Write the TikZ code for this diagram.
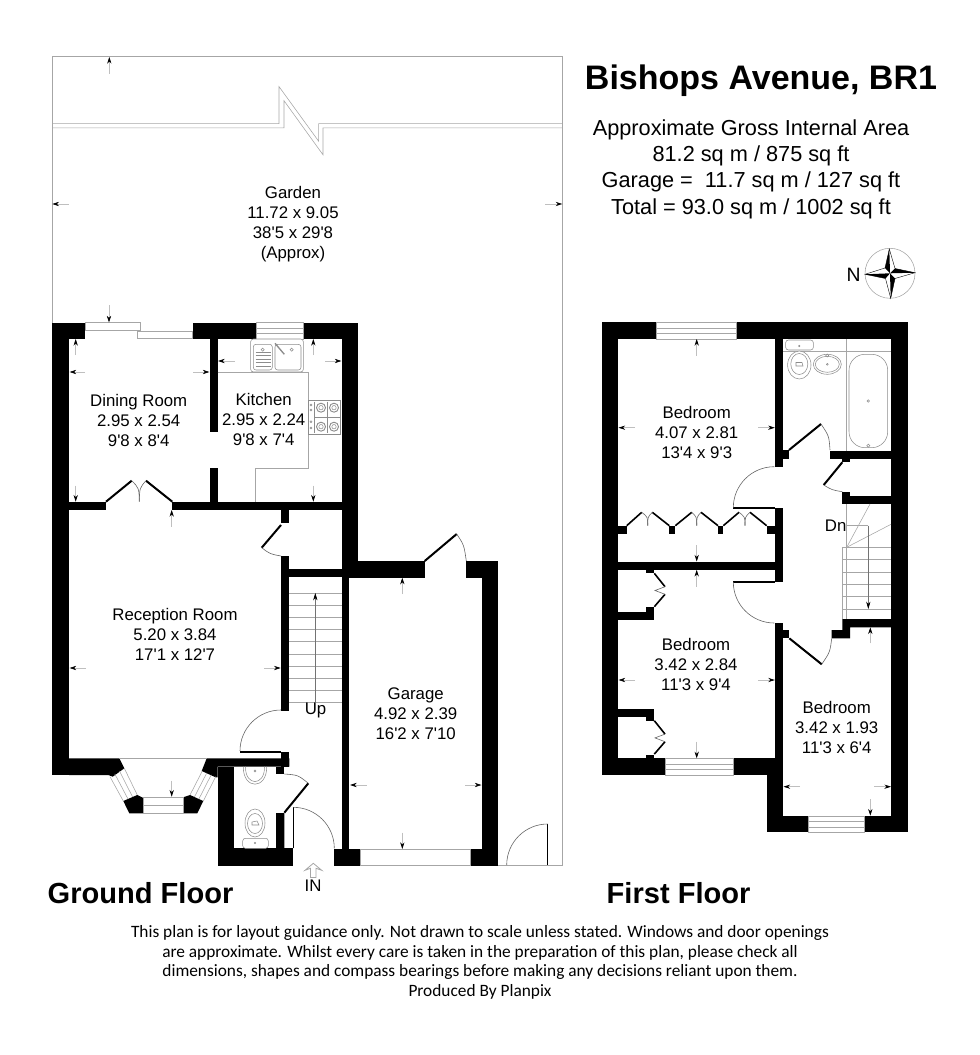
\documentclass[tikz,border=0pt]{standalone}
\usepackage{fontspec}
\setmainfont{Liberation Sans}[Ligatures=TeXOff]
\newfontfamily\notefont{Carlito}
\usetikzlibrary{arrows.meta}

\tikzset{
  wall/.style={fill=black},
  thinline/.style={draw=black!35,line width=0.42pt},
  fitting/.style={draw=black!45,line width=0.4pt},
  swing/.style={draw=black!60,line width=0.45pt},
  leaf/.style={draw=black,line width=1.5pt},
  dimline/.style={draw=black!25,line width=0.5pt,-{Stealth[black,length=5pt,width=3.2pt]}},
  room/.style={align=center,font=\fontsize{12.6}{15}\selectfont},
  areatext/.style={align=center,font=\fontsize{16.3}{19.8}\selectfont},
  floortitle/.style={font=\bfseries\fontsize{21.8}{26}\selectfont,anchor=base west},
  notetext/.style={align=center,font=\notefont\fontsize{13}{14.7}\selectfont}
}

% ventana de tres bandas: x1, x2, y arriba
\newcommand{\flatwindow}[3]{
  \draw[thinline] (#1,#3) rectangle (#2,#3+16.5);
  \draw[thinline] (#1,#3+5.5) -- (#2,#3+5.5);
  \draw[thinline] (#1,#3+11) -- (#2,#3+11);
}

\begin{document}
\begin{tikzpicture}[x=0.75pt,y=-0.75pt]
    \useasboundingbox (0,0) rectangle (980,1055);

    % Jardin
    \draw[thinline] (52.3,322.7) -- (52.3,56.5) -- (562.3,56.5) -- (562.3,865) -- (498,865);
    \draw[thinline] (52.3,123.7) -- (279,123.7) -- (279,86.6) -- (318.7,141.3) -- (318.7,123.7) -- (562.3,123.7);
    \draw[thinline] (52.3,127.8) -- (284,127.8) -- (284,100.7) -- (323,154.8) -- (323,127.8) -- (562.3,127.8);

    % Muros planta baja
    \fill[wall] (52.3,322.7) rectangle (85,339);
    \fill[wall] (52.3,322.7) rectangle (69,775);
    \fill[wall] (69,758.3) -- (119.3,758.3) -- (124.3,768.3) -- (112.7,776.7) -- (108.3,775) -- (69,775) -- cycle;
    \fill[wall] (192.7,322.7) rectangle (256,339);
    \fill[wall] (303,322.7) rectangle (358,339);
    \fill[wall] (342,322.7) rectangle (358,577.7);
    \fill[wall] (209.7,339) rectangle (217.7,432.3);
    \fill[wall] (209.7,468.3) rectangle (217.7,502);
    \fill[wall] (69,501.7) rectangle (106,510);
    \fill[wall] (172.3,501.7) rectangle (342,510);
    \fill[wall] (281,510) rectangle (289.3,523.3);
    \fill[wall] (281,556) rectangle (289.3,710.7);
    \fill[wall] (289,569) rectangle (342,577);
    \fill[wall] (342,577) rectangle (349.3,850);
    \fill[wall] (358,560.7) rectangle (424.7,577.7);
    \fill[wall] (466.3,560.7) rectangle (498.3,577.7);
    \fill[wall] (481.7,560.7) rectangle (498.3,865.5);
    \fill[wall] (470,849) rectangle (498.3,865.5);
    \fill[wall] (334,849) rectangle (360.7,865.5);
    \fill[wall] (123.3,801) -- (137.3,795) -- (143.3,798) -- (143.3,813.3) -- (129.3,813.3) -- cycle;
    \fill[wall] (183.3,797.3) -- (190,795) -- (203.3,801) -- (197.3,813.3) -- (183.3,813.3) -- cycle;
    \fill[wall] (206.7,758.3) -- (201.7,771) -- (215.7,777.3) -- (217.7,777.3) -- (217.7,766.7) -- (289.3,766.7) -- (289.3,758.3) -- cycle;
    \fill[wall] (281,752.3) rectangle (289.3,766.7);
    \fill[wall] (276,766.7) rectangle (284.3,774);
    \fill[wall] (217.7,766.7) rectangle (234,865.5);
    \fill[wall] (217.7,848.3) rectangle (292.7,865.5);
    \fill[wall] (276,812.7) rectangle (284.3,848.3);

    % Muros primera planta
    \fill[wall] (601.7,322.3) rectangle (656.7,339);
    \fill[wall] (736.7,322.3) rectangle (907.7,339);
    \fill[wall] (601.7,322.3) rectangle (618.3,775);
    \fill[wall] (891,322.3) rectangle (907.7,832.3);
    \fill[wall] (775,339) rectangle (783.3,467.3);
    \fill[wall] (783.3,450) rectangle (789,459);
    \fill[wall] (830,450.7) rectangle (891,459);
    \fill[wall] (842.3,459) rectangle (850,462.3);
    \fill[wall] (842.3,495.7) rectangle (891,504);
    \fill[wall] (842.3,491.7) rectangle (850,504);
    \fill[wall] (775,508.3) rectangle (783.3,581.7);
    \fill[wall] (618.3,561.5) rectangle (775,569.8);
    \foreach \wx/\wy in {618.3/626.7,669.3/675.3,718/723.3,766.7/775}
        \fill[wall] (\wx,525.7) rectangle (\wy,534);
    \fill[wall] (618.3,611.7) rectangle (654.3,619.7);
    \fill[wall] (646,606.7) rectangle (654.3,611.7);
    \fill[wall] (646,569.8) rectangle (654.3,573.3);
    \fill[wall] (618.3,709) rectangle (654.3,717);
    \fill[wall] (646,717) rectangle (654.3,720.7);
    \fill[wall] (646,755) rectangle (654.3,758.3);
    \fill[wall] (601.7,758.3) rectangle (665,775);
    \fill[wall] (733.3,758.3) rectangle (783.3,775);
    \fill[wall] (775,623.3) rectangle (783.3,758.3);
    \fill[wall] (783.3,630) rectangle (789.3,637.7);
    \fill[wall] (766.7,758.3) rectangle (783.3,832.3);
    \fill[wall] (766.7,815.7) rectangle (808.3,832.3);
    \fill[wall] (864.3,815.7) rectangle (907.7,832.3);
    \fill[wall] (842.3,619) -- (891,619) -- (891,627.3) -- (850,627.3) -- (850,638.3) -- (831.7,638.3) -- (831.7,630) -- (842.3,630) -- cycle;

    % Ventanas
    \flatwindow{256}{303}{322.7}
    \flatwindow{656.7}{736.7}{322.5}
    \flatwindow{665}{733.3}{758.5}
    \flatwindow{808.3}{864.3}{815.8}
    \draw[thinline] (85,322.7) rectangle (140.7,330);
    \draw[thinline] (137,331) rectangle (192.7,338.3);
    \draw[thinline] (360.7,849) rectangle (470,865.5);
    \draw[thinline] (119.3,758.3) -- (206.7,758.3);
    \draw[thinline] (143.3,797.3) rectangle (183.3,813.3);
    \draw[thinline] (143.3,805) -- (183.3,805);
    \draw[thinline] (110,776.7) -- (123.3,801);
    \draw[thinline] (114.8,773.9) -- (128,799);
    \draw[thinline] (119.5,771.1) -- (132.6,797);
    \draw[thinline] (124.3,768.3) -- (137.3,795);
    \draw[thinline] (215.7,776.7) -- (203.3,801);
    \draw[thinline] (211.2,774.8) -- (198.9,799);
    \draw[thinline] (206.8,772.9) -- (194.4,797);
    \draw[thinline] (202.3,771) -- (190,795);

    % Puertas planta baja
    \draw[leaf] (106,501.7) -- (131.7,480.7);
    \draw[leaf] (172.3,501.7) -- (146,480.7);
    \draw[swing] (131.7,480.7) .. controls (139,488) .. (139.3,501.7);
    \draw[swing] (146,480.7) .. controls (139.6,488) .. (139.3,501.7);
    \draw[leaf] (281,525) -- (261.7,547.7);
    \draw[swing] (261.7,547.7) .. controls (270,554) .. (281,556);
    \draw[leaf] (240,751.7) -- (281,751.7);
    \draw[swing] (240,751) arc[start angle=180,end angle=270,radius=41];
    \draw[leaf] (284.3,812.7) -- (308.3,783.3);
    \draw[swing] (308.3,783.3) .. controls (298,775) .. (284.3,774);
    \draw[draw=black,line width=0.7pt] (293.3,848.3) -- (293.3,807.3);
    \draw[thinline] (284.3,812.7) -- (284.3,848.3);
    \draw[swing] (293.3,807.3) arc[start angle=270,end angle=360,radius=41];
    \draw[leaf] (424.7,561) -- (456.7,534);
    \draw[swing] (456.7,534) .. controls (464,545) .. (466.3,561);
    \draw[draw=black,line width=0.7pt] (547.7,865) -- (547.7,824);
    \draw[swing] (547.7,824) arc[start angle=270,end angle=180,radius=41];

    % Puertas primera planta
    \draw[leaf] (733.3,507.7) -- (775,507.7);
    \draw[swing] (733.3,507.7) arc[start angle=180,end angle=270,radius=41];
    \draw[leaf] (733.3,582) -- (775,582);
    \draw[swing] (733.3,582) arc[start angle=180,end angle=90,radius=41];
    \draw[leaf] (789,450) -- (821,424);
    \draw[swing] (821,424) .. controls (829,436) .. (830,450);
    \draw[leaf] (842.3,462.3) -- (823.7,485);
    \draw[swing] (823.7,485) .. controls (832,490) .. (842.3,491.7);
    \draw[leaf] (789.3,638.3) -- (821.7,664.3);
    \draw[swing] (821.7,664.3) .. controls (830,652) .. (831.7,638.3);

    % Armarios
    \foreach \ax/\bx/\cx/\dx/\mx in {626.7/641.7/652.3/669.3/647.7,675.3/691.7/701/718/696.7,723.3/739/750/766.7/745}{
        \draw[leaf,line width=1.2pt] (\ax,525.7) -- (\bx,512.3);
        \draw[leaf,line width=1.2pt] (\dx,525.7) -- (\cx,512.3);
        \draw[swing] (\bx,512.3) .. controls (\mx,517) .. (\mx,525.7);
        \draw[swing] (\cx,512.3) .. controls (\mx,517) .. (\mx,525.7);
    }
    \foreach \cy in {573.3,720.7}{
        \draw[leaf,line width=1.2pt] (654.3,\cy) -- (665,\cy+13.4);
        \draw[leaf,line width=1.2pt] (654.3,\cy+33.4) -- (665,\cy+21);
        \draw[swing] (665,\cy+13.4) -- (655,\cy+17.2) -- (665,\cy+21);
    }

    % Escaleras planta baja
    \foreach \ty in {593,605,617,629.7,641.7,654,666,678,690,702}
        \draw[thinline] (289.3,\ty) -- (342,\ty);
    \draw[draw=black!55,line width=0.4pt,-{Stealth[black,length=5.5pt,width=3.2pt]}] (315.3,702) -- (315.3,593);

    % Escaleras primera planta
    \foreach \ty in {547.3,559.6,572,584.3,596.7,609}
        \draw[thinline] (842.3,\ty) -- (891,\ty);
    \draw[thinline] (846.7,547.3) -- (870,504);
    \draw[thinline] (846.7,547.3) -- (891,524.3);
    \draw[thinline] (846.7,525.7) -- (868.3,525.7);
    \draw[thinline] (846.7,504) -- (846.7,619);
    \draw[thinline] (842.3,547.3) -- (842.3,619);
    \draw[draw=black!55,line width=0.4pt,-{Stealth[black,length=5.5pt,width=3.2pt]}] (868.3,525.7) -- (868.3,609);

    % Encimera y fregadero
    \draw[thinline] (217.7,372) -- (308.3,372) -- (308.3,468.3) -- (255.7,468.3) -- (255.7,501.7);
    \draw[fitting,fill=white,rounded corners=2pt] (250.7,339) rectangle (303.3,372);
    \draw[fitting,rounded corners=2pt] (253.3,344.3) rectangle (272.3,370);
    \draw[fitting,rounded corners=2pt] (275,344.3) rectangle (301,370);
    \foreach \ly in {352,355.5,359,362.5,366}
        \draw[fitting] (255.5,\ly) -- (271,\ly);
    \draw[fitting] (262.7,349.7) circle (1.6);
    \draw[fitting] (291.7,349.7) circle (1.6);
    \draw[fitting,line width=1pt] (275,343.3) -- (284.3,354.3);

    % Cocina
    \draw[fitting] (308.7,400.7) rectangle (340.7,434);
    \draw[fitting] (314,401.5) -- (314,433);
    \draw[fitting] (327.3,401.5) -- (327.3,433);
    \draw[fitting] (314,417.3) -- (340.7,417.3);
    \foreach \bx/\by in {321/407.7,334/407.7,321/426.7,334/426.7}{
        \draw[fitting,line width=0.7pt] (\bx,\by) circle (4.5);
        \draw[fitting] (\bx,\by) circle (2.2);
    }
    \foreach \by in {405,410,421.7,428}
        \draw[fitting] (311,\by) circle (1);

    % Aseo
    \draw[fitting] (243.3,766.7) .. controls (243,790) and (267,790) .. (266.7,766.7);
    \draw[fitting] (245.5,766.7) .. controls (245,786.5) and (265,786.5) .. (264.5,766.7);
    \draw[fitting] (255,771) circle (1);
    \draw[fitting] (255,823) ellipse [x radius=10,y radius=14];
    \draw[fitting] (255,823.5) ellipse [x radius=7.5,y radius=10];
    \draw[fitting] (252,825) -- (252,822) -- (257,821) -- (259,825) -- cycle;
    \draw[fitting,fill=white,rounded corners=2pt] (242.7,838.3) rectangle (268.3,848.3);
    \draw[fitting] (255,843) circle (0.8);

    % Bano
    \draw[thinline] (783.3,351) -- (891,351);
    \draw[thinline] (846.7,339) -- (846.7,450.7);
    \draw[fitting,rounded corners=12pt] (849,354.3) rectangle (887.7,447.7);
    \draw[fitting] (868.3,401) circle (1.3);
    \draw[fitting] (868.3,445.7) circle (1.6);
    \draw[fitting,fill=white] (799.3,365) ellipse [x radius=11.7,y radius=14];
    \draw[fitting] (799.3,364) ellipse [x radius=8.5,y radius=10.5];
    \draw[fitting] (796,366) -- (796,362.5) -- (802,362.5) -- (803,366) -- cycle;
    \draw[fitting,fill=white,rounded corners=2pt] (785.7,340) rectangle (813.3,350);
    \draw[fitting] (799.3,346) circle (0.8);
    \draw[fitting] (827.3,364.3) ellipse [x radius=14,y radius=10];
    \draw[fitting] (827.3,364.3) ellipse [x radius=12,y radius=8];
    \draw[fitting] (827.3,364.3) circle (0.9);
    \draw[fitting] (827.3,355.5) circle (1.5);

    % Cotas
    \foreach \tx/\ty/\hx/\hy in {
        109.3/73.7/109.3/57, 68.7/204/52.3/204, 545/204/562.3/204, 109/305/109/322.5,
        75.7/355/75.7/339, 85/372/69.5/372, 193/372/209.5/372, 75.7/485.7/75.7/501.7, 171.7/526.7/171.7/510,
        235/361/218/361, 325/361/341.5/361, 313.3/355/313.3/339, 313.3/485.7/313.3/501.7,
        85.7/668/69.5/668, 264/668/280.7/668, 171.7/780.7/171.7/796.7,
        402.3/594/402.3/577.7, 402.3/832.7/402.3/849, 366.7/785/350/785, 465/785/481.5/785,
        696.7/355.7/696.7/339, 635/427.7/618.5/427.7, 758/427.7/774.8/427.7, 696.7/545/696.7/561.5,
        696.7/586.7/696.7/569.8, 635/680/618.5/680, 758/680/774.8/680, 696.7/741.7/696.7/758.3,
        870.3/643.3/870.3/627.3, 870.3/799.3/870.3/815.7, 800/786.7/783.5/786.7, 874.3/786.7/891/786.7}
        \draw[dimline] (\tx,\ty) -- (\hx,\hy);

    % Flecha de entrada
    \draw[thinline,line width=0.6pt] (313.3,863.3) -- (305,870.3) -- (310.5,868.3) -- (310.5,877.5) -- (316,877.5) -- (316,868.3) -- (321.7,870.3) -- cycle;

    % Brujula
    \draw[thinline] (890,273.3) circle (25);
    \draw[draw=black,line width=0.3pt,fill=white] (889.3,249) -- (895,268.5) -- (915,272.7) -- (895,278.5) -- (890.7,298.3) -- (885.5,278.5) -- (865,274.3) -- (885,268) -- cycle;
    \fill[black] (889.3,249) -- (885,268) -- (890,273.3) -- cycle;
    \fill[black] (915,272.7) -- (895,268.5) -- (890,273.3) -- cycle;
    \fill[black] (890.7,298.3) -- (895,278.5) -- (890,273.3) -- cycle;
    \fill[black] (865,274.3) -- (885.5,278.5) -- (890,273.3) -- cycle;
    \node[font=\fontsize{14.5}{16}\selectfont] (northmark) at (853.5,274.5) {N};

    % Etiquetas
    \node[room] (garden) at (293,224) {Garden\\11.72 x 9.05\\38'5 x 29'8\\(Approx)};
    \node[room] (dining) at (138.7,420.5) {Dining Room\\2.95 x 2.54\\9'8 x 8'4};
    \node[room] (kitchen) at (263.7,419.3) {Kitchen\\2.95 x 2.24\\9'8 x 7'4};
    \node[room] (reception) at (175,634.7) {Reception Room\\5.20 x 3.84\\17'1 x 12'7};
    \node[room] (garage) at (415.7,713.3) {Garage\\4.92 x 2.39\\16'2 x 7'10};
    \node[room] (bedone) at (696.7,432.5) {Bedroom\\4.07 x 2.81\\13'4 x 9'3};
    \node[room] (bedtwo) at (696,664.2) {Bedroom\\3.42 x 2.84\\11'3 x 9'4};
    \node[room] (bedthree) at (836.7,727.4) {Bedroom\\3.42 x 1.93\\11'3 x 6'4};
    \node[room] (upmark) at (315.5,710) {Up};
    \node[room] (dnmark) at (835.7,526) {Dn};
    \node[room] (inmark) at (313,886) {IN};

    % Titulos
    \node[font=\bfseries\fontsize{25.5}{30}\selectfont] (title) at (761,81) {Bishops Avenue, BR1};
    \node[areatext] (area) at (751,169) {Approximate Gross Internal Area\\81.2 sq m / 875 sq ft\\Garage =\ \ 11.7 sq m / 127 sq ft\\Total = 93.0 sq m / 1002 sq ft};
    \node[floortitle] (groundfloor) at (43,903.5) {Ground Floor};
    \node[floortitle] (firstfloor) at (602,903.5) {First Floor};
    \node[notetext] (disclaimer) at (480,962.5) {This plan is for layout guidance only. Not drawn to scale unless stated. Windows and door openings\\are approximate. Whilst every care is taken in the preparation of this plan, please check all\\dimensions, shapes and compass bearings before making any decisions reliant upon them.\\Produced By Planpix};
\end{tikzpicture}
\end{document}
